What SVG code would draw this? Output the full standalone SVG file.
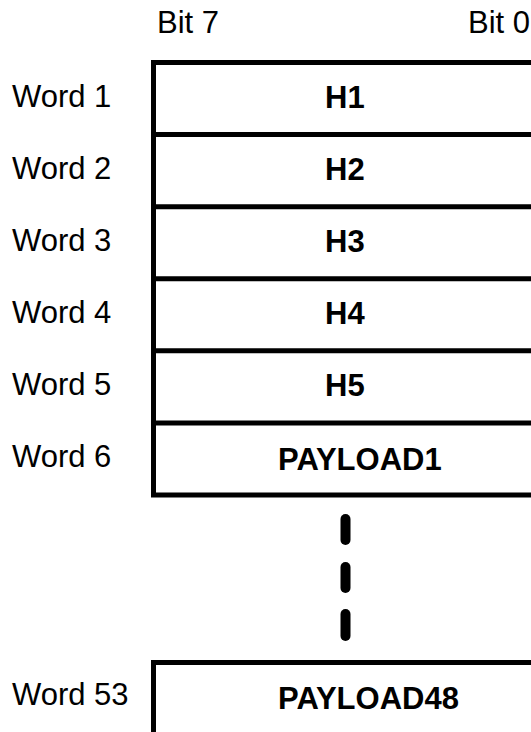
<svg xmlns="http://www.w3.org/2000/svg" width="531" height="732" viewBox="0 0 531 732">
<style>
.lbl{font-family:"Liberation Sans",Arial,sans-serif;font-size:31px;fill:#000}
.fld{font-family:"Liberation Sans",Arial,sans-serif;font-size:31px;font-weight:bold;fill:#000}
.ln{stroke:#000;stroke-width:5;fill:none}
.dash{stroke:#000;stroke-width:10;stroke-linecap:round}
</style>
<rect width="531" height="732" fill="#fff"/>
<g id="header">
<text class="lbl" x="157" y="33">Bit 7</text>
<text class="lbl" x="468" y="33">Bit 0</text>
</g>
<g id="table-lines">
<path class="ln" d="M153.5,60 V497.5 M151,62.5 H531 M151,134.6 H531 M151,206.7 H531 M151,278.8 H531 M151,350.8 H531 M151,422.9 H531 M151,495 H531"/>
<path class="ln" d="M153.5,660 V732 M151,662.5 H531"/>
</g>
<g id="word1"><text class="lbl" x="12" y="107">Word 1</text><text class="fld" x="325" y="108">H1</text></g>
<g id="word2"><text class="lbl" x="12" y="179">Word 2</text><text class="fld" x="325" y="180">H2</text></g>
<g id="word3"><text class="lbl" x="12" y="251">Word 3</text><text class="fld" x="325" y="252">H3</text></g>
<g id="word4"><text class="lbl" x="12" y="323">Word 4</text><text class="fld" x="325" y="324">H4</text></g>
<g id="word5"><text class="lbl" x="12" y="395">Word 5</text><text class="fld" x="325" y="396">H5</text></g>
<g id="word6"><text class="lbl" x="12" y="467">Word 6</text><text class="fld" x="278" y="470">PAYLOAD1</text></g>
<g id="connectors">
<line class="dash" x1="345.5" y1="519" x2="345.5" y2="540"/>
<line class="dash" x1="345.5" y1="567" x2="345.5" y2="588"/>
<line class="dash" x1="345.5" y1="614" x2="345.5" y2="636"/>
</g>
<g id="word53"><text class="lbl" x="12" y="705">Word 53</text><text class="fld" x="278" y="709">PAYLOAD48</text></g>
</svg>
